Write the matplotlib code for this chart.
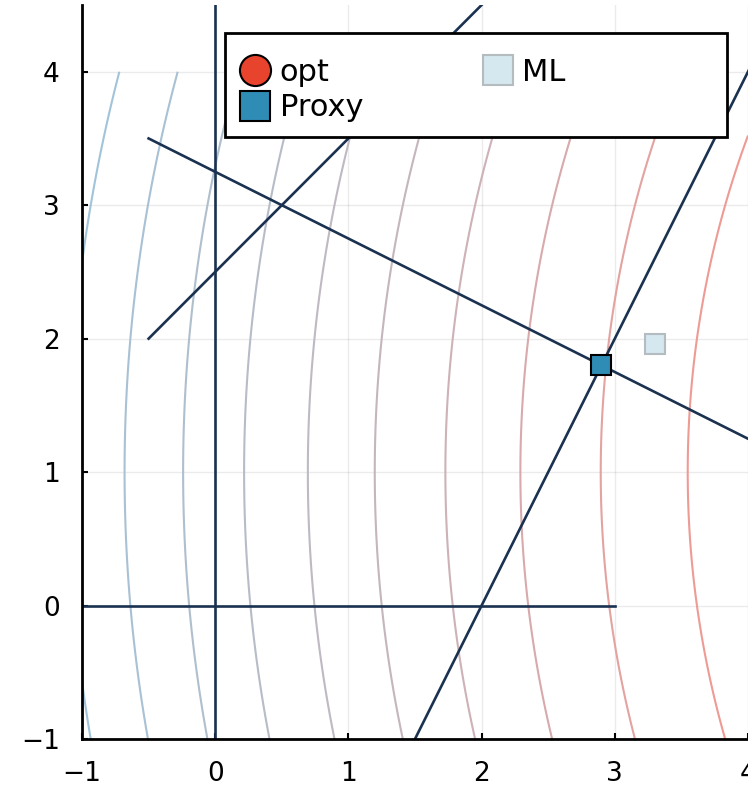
import numpy as np
import matplotlib
matplotlib.use("Agg")
import matplotlib.pyplot as plt
import matplotlib.patches as mpatches
from matplotlib.colors import LinearSegmentedColormap

# contour field: squared distance from the optimum, levels
opt_xy = [10.8, 1.0]
levels = [52.6, 62.5, 72.4, 82.3, 92.2, 102.1, 112.0, 121.9, 131.8, 141.7]
grid_x = [-1.0, 4.0]
grid_y = [-1.0, 4.0]

# constraint lines (x0, y0, x1, y1)
lines = [
    (0.0, -1.0, 0.0, 4.5),
    (-1.0, 0.0, 3.0, 0.0),
    (-0.5, 2.0, 2.0, 4.5),
    (-0.5, 3.5, 4.5, 1.0),
    (1.5, -1.0, 4.5, 5.0),
]

proxy_xy = [2.9, 1.8]
ml_xy = [3.3, 1.96]

xticks = [-1, 0, 1, 2, 3, 4]
yticks = [-1, 0, 1, 2, 3, 4]


def main():
    plt.rcParams['font.family'] = ['DejaVu Sans']
    fig = plt.figure(figsize=(7.48, 7.86), dpi=100)
    ax = fig.add_axes([82 / 748, 47 / 786, 666 / 748, 734 / 786])

    gx = np.linspace(grid_x[0], grid_x[1], 300)
    gy = np.linspace(grid_y[0], grid_y[1], 300)
    X, Y = np.meshgrid(gx, gy)
    Z = (X - opt_xy[0]) ** 2 + (Y - opt_xy[1]) ** 2
    cmap = LinearSegmentedColormap.from_list(
        "bg", ["#ee9b96", "#cdb2b8", "#b6bcc8", "#a2c4da"])
    ax.contour(X, Y, Z, levels=levels, cmap=cmap, linewidths=1.5, zorder=1)

    for x0, y0, x1, y1 in lines:
        ax.plot([x0, x1], [y0, y1], color="#1a3150", lw=1.9, zorder=2)

    ax.plot(opt_xy[0], opt_xy[1], "o", ms=16, mfc="#e8432d", mec="black",
            mew=1.5, label="opt")
    ax.plot(proxy_xy[0], proxy_xy[1], "s", ms=15, mfc="#2f8db5", mec="black",
            mew=1.5, label="Proxy", zorder=4)
    ax.plot(ml_xy[0], ml_xy[1], "s", ms=15, mfc="#d5e7ef", mec="#b4bcc0",
            mew=1.5, label="ML", zorder=3)

    ax.set_xlim(-1, 4)
    ax.set_ylim(-1, 4.5)
    ax.set_xticks(xticks)
    ax.set_yticks(yticks)
    ax.set_xticklabels(["\u22121" if t < 0 else str(t) for t in xticks])
    ax.set_yticklabels(["\u22121" if t < 0 else str(t) for t in yticks])
    ax.tick_params(direction="in", length=4, width=1.5, labelsize=19, pad=16)
    ax.grid(True, color="#000000", alpha=0.08, lw=1)
    ax.set_axisbelow(True)
    for s in ["top", "right"]:
        ax.spines[s].set_visible(False)
    for s in ["left", "bottom"]:
        ax.spines[s].set_linewidth(2)

    # legend frame drawn by hand, entries placed inside it
    frame = mpatches.Rectangle(((225 - 82) / 666, (739 - 137) / 734),
                               (727 - 225) / 666, 104 / 734,
                               transform=ax.transAxes, fc="white", ec="black",
                               lw=2, zorder=5)
    ax.add_patch(frame)
    leg = ax.legend(loc="center left", bbox_to_anchor=(0.237, 0.884),
                    ncol=2, fontsize=22, markerscale=1.4, frameon=False,
                    handletextpad=0.3, labelspacing=0.2, borderpad=0,
                    handlelength=1.0, columnspacing=3.9, borderaxespad=0)
    leg.set_zorder(6)

    fig.savefig("out.png", dpi=100)


if __name__ == "__main__":
    main()
